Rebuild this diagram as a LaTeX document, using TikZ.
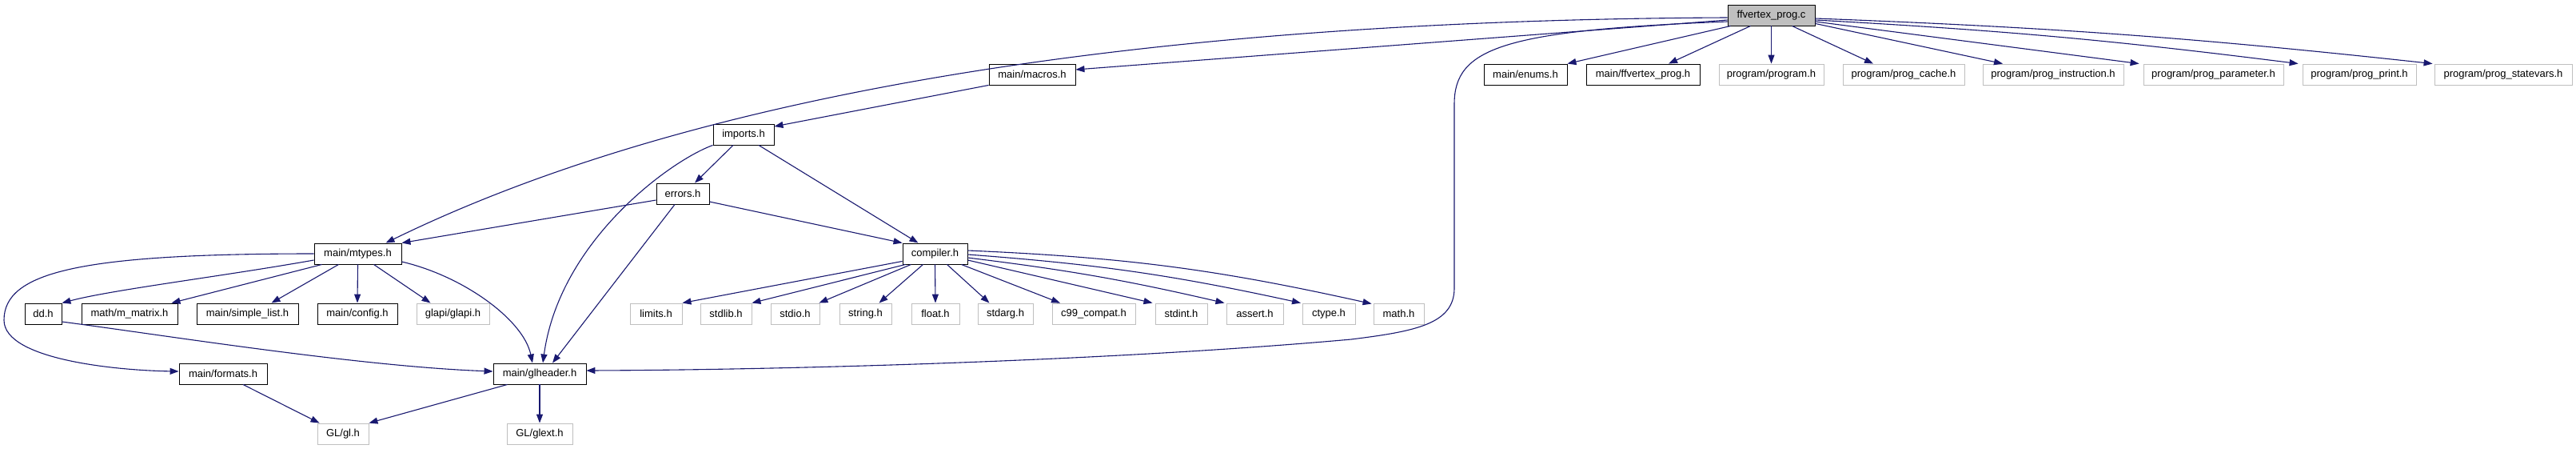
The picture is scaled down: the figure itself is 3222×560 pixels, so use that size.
\documentclass[tikz,border=0pt]{standalone}
\usepackage{fontspec}
\setmainfont{Liberation Sans}
\usetikzlibrary{arrows.meta,calc}
\definecolor{edgecol}{HTML}{191970}
\definecolor{greyline}{HTML}{BFBFBF}
\definecolor{mainfill}{HTML}{BFBFBF}
\newcommand{\boxfont}{\fontsize{13}{15}\selectfont}
\tikzset{
  box/.style={draw=black, line width=0.9pt, fill=white, minimum height=26pt, inner sep=0pt, font=\boxfont, text=black},
  gbox/.style={box, draw=greyline, line width=0.9pt},
  mainbox/.style={box, fill=mainfill},
  edge/.style={draw=edgecol, line width=1.1pt, -{Triangle[length=11pt,width=8pt]}},
}
\begin{document}
\begin{tikzpicture}[x=1pt,y=-1pt]
\useasboundingbox (0,0) rectangle (3222,560);
\fill[white] (0,0) rectangle (3222,560);
% row 0
\node[mainbox, minimum width=109pt] (ffv) at (2215.5,19) {ffvertex\_prog.c};
% row 1
\node[box, minimum width=108pt] (macros) at (1291,93) {main/macros.h};
\node[box, minimum width=104pt] (enums) at (1908,93) {main/enums.h};
\node[box, minimum width=142pt] (ffvh) at (2055,93) {main/ffvertex\_prog.h};
\node[gbox, minimum width=131pt] (program) at (2215.5,93) {program/program.h};
\node[gbox, minimum width=152pt] (cache) at (2381,93) {program/prog\_cache.h};
\node[gbox, minimum width=176pt] (instr) at (2568,93) {program/prog\_instruction.h};
\node[gbox, minimum width=175pt] (param) at (2768.5,93) {program/prog\_parameter.h};
\node[gbox, minimum width=142pt] (print) at (2951,93) {program/prog\_print.h};
\node[gbox, minimum width=172pt] (statevars) at (3131,93) {program/prog\_statevars.h};
% row 2-3
\node[box, minimum width=76pt] (imports) at (930,168) {imports.h};
\node[box, minimum width=66pt] (errors) at (854,242) {errors.h};
% row 4
\node[box, minimum width=109pt] (mtypes) at (447.5,317) {main/mtypes.h};
\node[box, minimum width=81pt] (compiler) at (1169.5,317) {compiler.h};
% row 5
\node[box, minimum width=46pt] (dd) at (54,392) {dd.h};
\node[box, minimum width=120pt] (mmatrix) at (162,392) {math/m\_matrix.h};
\node[box, minimum width=127pt] (simple) at (309.5,392) {main/simple\_list.h};
\node[box, minimum width=100pt] (config) at (447,392) {main/config.h};
\node[gbox, minimum width=91pt] (glapi) at (566.5,392) {glapi/glapi.h};
\node[gbox, minimum width=65pt] (limits) at (820.5,392) {limits.h};
\node[gbox, minimum width=64pt] (stdlib) at (908,392) {stdlib.h};
\node[gbox, minimum width=61pt] (stdio) at (994.5,392) {stdio.h};
\node[gbox, minimum width=65pt] (string) at (1082.5,392) {string.h};
\node[gbox, minimum width=60pt] (float) at (1170,392) {float.h};
\node[gbox, minimum width=69pt] (stdarg) at (1257.5,392) {stdarg.h};
\node[gbox, minimum width=104pt] (c99) at (1368,392) {c99\_compat.h};
\node[gbox, minimum width=65pt] (stdint) at (1477.5,392) {stdint.h};
\node[gbox, minimum width=71pt] (assert) at (1569.5,392) {assert.h};
\node[gbox, minimum width=66pt] (ctype) at (1662,392) {ctype.h};
\node[gbox, minimum width=63pt] (math) at (1749.5,392) {math.h};
% row 6
\node[box, minimum width=110pt] (formats) at (279,467) {main/formats.h};
\node[box, minimum width=116pt] (glheader) at (675,467) {main/glheader.h};
% row 7
\node[gbox, minimum width=64pt] (gl) at (429,542) {GL/gl.h};
\node[gbox, minimum width=82pt] (glext) at (675,542) {GL/glext.h};

% edges from ffvertex_prog.c
\draw[edge] ($(ffv.west)+(0,3)$) .. controls (1500,25) and (900,100) .. ($(mtypes.north)+(35,0)$);
\draw[edge] ($(ffv.west)+(0,6)$) -- ($(macros.east)+(0,-6)$);
\draw[edge] ($(ffv.west)+(0,8)$) .. controls (1880,38) and (1819,60) .. (1819,130) -- (1819,360) .. controls (1819,405) and (1770,414) .. (1690,424) .. controls (1400,450) and (1000,462) .. ($(glheader.east)+(0,-4)$);
\draw[edge] ($(ffv.south west)+(4,0)$) -- (enums.north east);
\draw[edge] ($(ffv.south)+(-26,0)$) -- ($(ffvh.north)+(32,0)$);
\draw[edge] (ffv.south) -- (program.north);
\draw[edge] ($(ffv.south)+(26,0)$) -- ($(cache.north)+(-38,0)$);
\draw[edge] ($(ffv.south east)+(0,-3)$) -- ($(instr.north)+(-63,0)$);
\draw[edge] ($(ffv.east)+(0,8)$) -- ($(param.north west)+(-5,0)$);
\draw[edge] ($(ffv.east)+(0,6)$) to[bend left=2] ($(print.north west)+(-5,0)$);
\draw[edge] ($(ffv.east)+(0,4)$) to[bend left=2] ($(statevars.north west)+(-2,0)$);
% imports / errors
\draw[edge] (macros.south west) -- ($(imports.east)+(0,-10)$);
\draw[edge] ($(imports.south)+(-13,0)$) -- ($(errors.north)+(15,0)$);
\draw[edge] ($(imports.south)+(19,0)$) -- ($(compiler.north)+(-21,0)$);
\draw[edge] (imports.south west) .. controls (840,200) and (700,300) .. ($(glheader.north)+(4,0)$);
\draw[edge] ($(errors.south)+(-10,0)$) -- ($(glheader.north)+(16,0)$);
\draw[edge] ($(errors.west)+(0,8)$) -- (mtypes.north east);
\draw[edge] ($(errors.east)+(0,10)$) -- (compiler.north west);
% mtypes
\draw[edge] ($(mtypes.west)+(0,8)$) .. controls (280,345) and (140,362) .. (dd.north east);
\draw[edge] ($(mtypes.south west)+(10,0)$) -- ($(mmatrix.north east)+(-8,0)$);
\draw[edge] ($(mtypes.south)+(-24,0)$) -- ($(simple.north)+(30,0)$);
\draw[edge] (mtypes.south) -- (config.north);
\draw[edge] ($(mtypes.south)+(20,0)$) -- ($(glapi.north)+(-28,0)$);
\draw[edge] ($(mtypes.east)+(0,10)$) .. controls (580,345) and (655,400) .. ($(glheader.north)+(-9,0)$);
\draw[edge] (mtypes.west) .. controls (100,317) and (5,340) .. (5,400) .. controls (5,450) and (150,463) .. ($(formats.west)+(0,-3)$);
\draw[edge] ($(dd.east)+(0,10)$) .. controls (200,418) and (450,458) .. ($(glheader.west)+(0,-3)$);
\draw[edge] ($(formats.south)+(25,0)$) -- ($(gl.north west)+(3,0)$);
\draw[edge] ($(glheader.south west)+(18,0)$) -- (gl.north east);
\draw[edge] (glheader.south) -- (glext.north);
% compiler
\draw[edge] ($(compiler.south west)+(0,-4)$) -- (limits.north east);
\draw[edge] ($(compiler.south west)+(4,0)$) -- (stdlib.north east);
\draw[edge] ($(compiler.south)+(-30,0)$) -- ($(stdio.north east)+(-1,0)$);
\draw[edge] ($(compiler.south)+(-15,0)$) -- ($(string.north)+(17,0)$);
\draw[edge] (compiler.south) -- (float.north);
\draw[edge] ($(compiler.south)+(15,0)$) -- ($(stdarg.north)+(-20,0)$);
\draw[edge] ($(compiler.south)+(33,0)$) -- ($(c99.north)+(-42,0)$);
\draw[edge] ($(compiler.east)+(0,8)$) -- ($(stdint.north)+(-36,0)$);
\draw[edge] ($(compiler.east)+(0,5)$) to[bend left=3] ($(assert.north)+(-38,0)$);
\draw[edge] ($(compiler.east)+(0,1)$) to[bend left=4] ($(ctype.north)+(-35,0)$);
\draw[edge] ($(compiler.east)+(0,-4)$) to[bend left=5] ($(math.north west)+(-2,1)$);
\end{tikzpicture}
\end{document}
